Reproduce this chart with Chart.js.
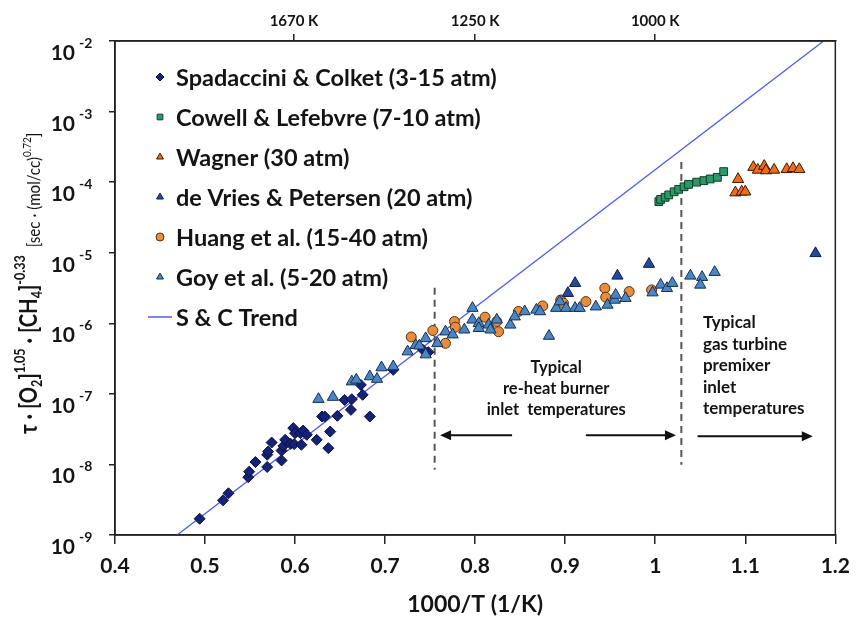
<!DOCTYPE html>
<html>
<head>
<meta charset="utf-8">
<script src="https://cdn.jsdelivr.net/npm/chart.js@4.4.1/dist/chart.umd.min.js"></script>
<style>
  html, body { margin: 0; padding: 0; background: #fff; }
  canvas { display: block; }
</style>
</head>
<body>
<canvas id="chart" width="860" height="622"></canvas>
<script>
// values: x = 1000/T (1/K), y = normalised ignition delay
const spadX = [0.494, 0.520, 0.526, 0.548, 0.549, 0.556, 0.569, 0.569, 0.570, 0.574, 0.585, 0.585, 0.587, 0.589, 0.595, 0.598, 0.600, 0.599, 0.606, 0.607, 0.609, 0.613, 0.624, 0.630, 0.633, 0.637, 0.639, 0.647, 0.655, 0.662, 0.663, 0.673, 0.675, 0.683, 0.709, 0.742, 0.748];
const spadY = [1.7e-9, 3.1e-9, 3.9e-9, 6.6e-9, 7.9e-9, 1.08e-8, 9.2e-9, 1.37e-8, 1.52e-8, 2.04e-8, 1.14e-8, 1.57e-8, 1.83e-8, 2.23e-8, 1.96e-8, 3.27e-8, 2.77e-8, 1.94e-8, 2.77e-8, 1.90e-8, 3.02e-8, 2.63e-8, 2.23e-8, 4.77e-8, 4.77e-8, 1.70e-8, 2.92e-8, 4.88e-8, 8.2e-8, 5.93e-8, 8.4e-8, 1.34e-7, 9.7e-8, 4.77e-8, 2.19e-7, 4.2e-7, 3.9e-7];

const cowellX = [1.004, 1.006, 1.011, 1.015, 1.021, 1.026, 1.032, 1.037, 1.046, 1.054, 1.061, 1.069, 1.076];
const cowellY = [5.3e-5, 5.7e-5, 6.1e-5, 6.6e-5, 7.3e-5, 7.9e-5, 8.6e-5, 9.3e-5, 1.0e-4, 1.05e-4, 1.11e-4, 1.17e-4, 1.41e-4];

const wagnerX = [1.092, 1.089, 1.096, 1.100, 1.109, 1.114, 1.121, 1.123, 1.132, 1.146, 1.153, 1.160];
const wagnerY = [1.10e-4, 7.1e-5, 7.3e-5, 7.3e-5, 1.63e-4, 1.49e-4, 1.69e-4, 1.46e-4, 1.49e-4, 1.52e-4, 1.57e-4, 1.52e-4];

const devriesX = [0.903, 0.911, 0.958, 0.993, 1.178];
const devriesY = [2.67e-6, 3.7e-6, 4.7e-6, 6.9e-6, 9.8e-6];

const huangX = [0.729, 0.753, 0.767, 0.777, 0.778, 0.811, 0.824, 0.826, 0.848, 0.875, 0.895, 0.898, 0.923, 0.944, 0.945, 0.971, 0.996];
const huangY = [6.4e-7, 7.9e-7, 5.2e-7, 1.06e-6, 8.8e-7, 1.22e-6, 1.06e-6, 7.6e-7, 1.47e-6, 1.76e-6, 2.14e-6, 1.93e-6, 2.03e-6, 3.14e-6, 2.34e-6, 2.81e-6, 2.97e-6];

const goyX = [0.626, 0.642, 0.663, 0.668, 0.683, 0.691, 0.696, 0.709, 0.725, 0.734, 0.738, 0.745, 0.745, 0.758, 0.767, 0.775, 0.788, 0.797, 0.797, 0.804, 0.804, 0.815, 0.817, 0.824, 0.839, 0.844, 0.855, 0.868, 0.872, 0.882, 0.890, 0.894, 0.901, 0.911, 0.916, 0.934, 0.947, 0.955, 0.956, 0.967, 0.997, 1.006, 1.013, 1.019, 1.039, 1.052, 1.050, 1.066];
const goyY = [8.4e-8, 9.0e-8, 1.49e-7, 1.58e-7, 1.76e-7, 1.62e-7, 2.36e-7, 2.44e-7, 3.97e-7, 4.9e-7, 4.8e-7, 6.1e-7, 3.6e-7, 5.2e-7, 7.6e-7, 6.9e-7, 8.1e-7, 1.64e-6, 1.12e-6, 1.0e-6, 8.5e-7, 9.5e-7, 8.1e-7, 1.12e-6, 9.5e-7, 1.24e-6, 1.47e-6, 1.55e-6, 1.47e-6, 6.6e-7, 1.64e-6, 2.03e-6, 1.64e-6, 1.64e-6, 1.64e-6, 1.72e-6, 1.82e-6, 2.14e-6, 2.52e-6, 2.27e-6, 2.72e-6, 3.5e-6, 3.14e-6, 3.7e-6, 4.7e-6, 4.5e-6, 3.5e-6, 5.3e-6];

// S & C trend line end points
const trendX = [0.469, 1.187];
const trendY = [1e-9, 1e-2];

// dashed boundaries of the temperature windows
const reheatX = [0.755, 0.755];
const reheatY = [3.2e-6, 8.4e-9];
const turbineX = [1.029, 1.029];
const turbineY = [1.93e-4, 9.9e-9];

// arrows (tail -> head) and the notes above them
const arrowFrom = [0.841, 0.923, 1.047];
const arrowTo = [0.761, 1.023, 1.175];
const arrowLevel = [2.6e-8, 2.6e-8, 2.5e-8];
const reheatNote = ['Typical', 're-heat burner', 'inlet  temperatures'];
const reheatNoteAt = [0.890, 2.33e-7];
const turbineNote = ['Typical', 'gas turbine', 'premixer', 'inlet', 'temperatures'];
const turbineNoteAt = [1.053, 1.01e-6];

// axes
const xTicks = [0.4, 0.5, 0.6, 0.7, 0.8, 0.9, 1.0, 1.1, 1.2];
const tempTicks = [1000 / 1670, 1000 / 1250, 1000 / 1000];
const tempLabels = ['1670 K', '1250 K', '1000 K'];
const decades = [-2, -3, -4, -5, -6, -7, -8, -9];

const FONT = 'Lato, "Open Sans", sans-serif';
const INK = '#141414';

function zip(xs, ys) {
    return xs.map((x, i) => ({ x: x, y: ys[i] }));
}

const datasets = [
    { label: 'Spadaccini & Colket (3-15 atm)', data: zip(spadX, spadY), pointStyle: 'rectRot', pointRadius: 5.5, backgroundColor: '#15227a', borderColor: '#0a0f3a', borderWidth: 1, order: 3 },
    { label: 'Cowell & Lefebvre (7-10 atm)', data: zip(cowellX, cowellY), pointStyle: 'rect', pointRadius: 5.5, backgroundColor: '#2a9a68', borderColor: '#0f3d28', borderWidth: 1, order: 2 },
    { label: 'Wagner (30 atm)', data: zip(wagnerX, wagnerY), pointStyle: 'triangle', pointRadius: 6.5, backgroundColor: '#f06b1a', borderColor: '#3a1a05', borderWidth: 1, order: 2 },
    { label: 'de Vries & Petersen (20 atm)', data: zip(devriesX, devriesY), pointStyle: 'triangle', pointRadius: 6.5, backgroundColor: '#1f4c9e', borderColor: '#0d1f44', borderWidth: 1, order: 1 },
    { label: 'Huang et al. (15-40 atm)', data: zip(huangX, huangY), pointStyle: 'circle', pointRadius: 5, backgroundColor: '#e88d3c', borderColor: '#5a3010', borderWidth: 1, order: 4 },
    { label: 'Goy et al. (5-20 atm)', data: zip(goyX, goyY), pointStyle: 'triangle', pointRadius: 6.5, backgroundColor: '#4a86c6', borderColor: '#15304f', borderWidth: 1, order: 1 },
    { label: 'S & C Trend', data: zip(trendX, trendY), showLine: true, pointRadius: 0, borderColor: '#4a5cf2', borderWidth: 1.3, order: 9 },
    { label: 'reheat', data: zip(reheatX, reheatY), showLine: true, pointRadius: 0, borderColor: '#555', borderWidth: 2, borderDash: [7, 5], order: 8 },
    { label: 'turbine', data: zip(turbineX, turbineY), showLine: true, pointRadius: 0, borderColor: '#555', borderWidth: 2, borderDash: [7, 5], order: 8 }
];

// text runs along the baseline, squeezed by k to mimic a narrow face
function drawRuns(ctx, runs, k) {
    let x = 0;
    runs.forEach(r => {
        ctx.font = r.font;
        ctx.save();
        ctx.translate(x, r.dy);
        ctx.scale(k, 1);
        ctx.fillText(r.text, 0, 0);
        ctx.restore();
        x += ctx.measureText(r.text).width * k;
    });
}

function drawArrow(ctx, x1, y1, x2, y2) {
    const dir = Math.sign(x2 - x1);
    ctx.beginPath();
    ctx.moveTo(x1, y1);
    ctx.lineTo(x2 - dir * 8, y2);
    ctx.stroke();
    ctx.beginPath();
    ctx.moveTo(x2, y2);
    ctx.lineTo(x2 - dir * 11, y2 - 5);
    ctx.lineTo(x2 - dir * 11, y2 + 5);
    ctx.closePath();
    ctx.fill();
}

const figurePlugin = {
    id: 'figure',
    afterDraw(chart) {
        const ctx = chart.ctx;
        const area = chart.chartArea;
        const xs = chart.scales.x;
        const ys = chart.scales.y;
        ctx.save();

        // frame
        ctx.strokeStyle = '#222';
        ctx.lineWidth = 1.5;
        ctx.strokeRect(area.left, area.top, area.right - area.left, area.bottom - area.top);

        // y tick labels as 10 with a raised exponent
        ctx.fillStyle = INK;
        decades.forEach(e => {
            const py = ys.getPixelForValue(Number('1e' + e));
            ctx.font = 'bold 21px ' + FONT;
            ctx.textAlign = 'right';
            ctx.fillText('10', 75, py + 19);
            ctx.font = 'bold 14px ' + FONT;
            ctx.textAlign = 'left';
            ctx.fillText(String(e), 79, py + 7);
        });

        // y axis title
        ctx.save();
        ctx.translate(37, 434);
        ctx.rotate(-Math.PI / 2);
        ctx.textAlign = 'left';
        const big = 'bold 24px ' + FONT;
        const sm = 'bold 15px ' + FONT;
        const note = '18px ' + FONT;
        drawRuns(ctx, [
            { text: 'τ · [O', font: big, dy: 0 },
            { text: '2', font: sm, dy: 5 },
            { text: ']', font: big, dy: 0 },
            { text: '1.05', font: sm, dy: -12 },
            { text: ' · [CH', font: big, dy: 0 },
            { text: '4', font: sm, dy: 5 },
            { text: ']', font: big, dy: 0 },
            { text: '-0.33', font: sm, dy: -12 },
            { text: '  [sec · (mol/cc)', font: note, dy: 3 },
            { text: '0.72', font: '12px ' + FONT, dy: -6 },
            { text: ']', font: note, dy: 3 }
        ], 0.84);
        ctx.restore();

        // legend
        const legendTop = 77;
        const legendStep = 40;
        ctx.textBaseline = 'middle';
        datasets.slice(0, 7).forEach((ds, i) => {
            const ly = legendTop + i * legendStep;
            if (ds.showLine) {
                ctx.strokeStyle = ds.borderColor;
                ctx.lineWidth = 1.5;
                ctx.beginPath();
                ctx.moveTo(148, ly);
                ctx.lineTo(172, ly);
                ctx.stroke();
            } else {
                ctx.fillStyle = ds.backgroundColor;
                ctx.strokeStyle = ds.borderColor;
                ctx.lineWidth = 1;
                Chart.helpers.drawPoint(ctx, { pointStyle: ds.pointStyle, radius: 4, borderWidth: 1, rotation: 0 }, 160, ly);
            }
            ctx.fillStyle = INK;
            ctx.font = 'bold 23.5px ' + FONT;
            ctx.textAlign = 'left';
            ctx.fillText(ds.label, 176, ly + 1);
        });

        // arrows
        ctx.strokeStyle = '#111';
        ctx.fillStyle = '#111';
        ctx.lineWidth = 2;
        arrowFrom.forEach((x0, i) => {
            const py = ys.getPixelForValue(arrowLevel[i]);
            drawArrow(ctx, xs.getPixelForValue(x0), py, xs.getPixelForValue(arrowTo[i]), py);
        });

        // notes
        ctx.fillStyle = INK;
        ctx.font = 'bold 16.5px ' + FONT;
        ctx.textAlign = 'center';
        let nx = xs.getPixelForValue(reheatNoteAt[0]);
        let ny = ys.getPixelForValue(reheatNoteAt[1]);
        reheatNote.forEach((t, i) => ctx.fillText(t, nx, ny + i * 21));
        ctx.textAlign = 'left';
        nx = xs.getPixelForValue(turbineNoteAt[0]);
        ny = ys.getPixelForValue(turbineNoteAt[1]);
        ctx.font = 'bold 17px ' + FONT;
        turbineNote.forEach((t, i) => ctx.fillText(t, nx, ny + i * 21.5));

        ctx.restore();
    }
};

new Chart(document.getElementById('chart'), {
    type: 'scatter',
    data: { datasets: datasets },
    options: {
        responsive: false,
        animation: false,
        layout: { padding: { left: 0, right: 19, top: 0, bottom: 0 } },
        plugins: { legend: { display: false }, tooltip: { enabled: false } },
        scales: {
            x: {
                type: 'linear', position: 'bottom', min: 0.4, max: 1.2,
                afterBuildTicks: s => { s.ticks = xTicks.map(v => ({ value: v })); },
                afterFit: s => { s.height = 87; },
                grid: { drawOnChartArea: false, color: '#222', lineWidth: 1.5, tickLength: 9 },
                border: { color: '#222', width: 1.5 },
                ticks: { color: INK, font: { family: FONT, size: 21, weight: 'bold' }, padding: 10, maxRotation: 0, autoSkip: false, callback: v => String(v) },
                title: { display: true, text: '1000/T (1/K)', color: INK, font: { family: FONT, size: 23, weight: 'bold' }, padding: { top: 0, bottom: 4 } }
            },
            x2: {
                type: 'linear', position: 'top', min: 0.4, max: 1.2,
                afterBuildTicks: s => { s.ticks = tempTicks.map(v => ({ value: v })); },
                afterFit: s => { s.height = 41; },
                grid: { drawOnChartArea: false, color: '#222', lineWidth: 1.5, tickLength: 7 },
                border: { color: '#222', width: 1.5 },
                ticks: { color: INK, font: { family: FONT, size: 15, weight: 'bold' }, padding: 4, maxRotation: 0, autoSkip: false, callback: (v, i) => tempLabels[i] }
            },
            y: {
                type: 'logarithmic', position: 'left', min: 1e-9, max: 1e-2,
                afterBuildTicks: s => { s.ticks = decades.map(e => ({ value: Number('1e' + e) })); },
                afterFit: s => { s.width = 115; },
                grid: { drawOnChartArea: false, color: '#222', lineWidth: 1.5, tickLength: 6 },
                border: { color: '#222', width: 1.5 },
                ticks: { callback: () => '' }
            }
        }
    },
    plugins: [figurePlugin]
});
</script>
</body>
</html>
